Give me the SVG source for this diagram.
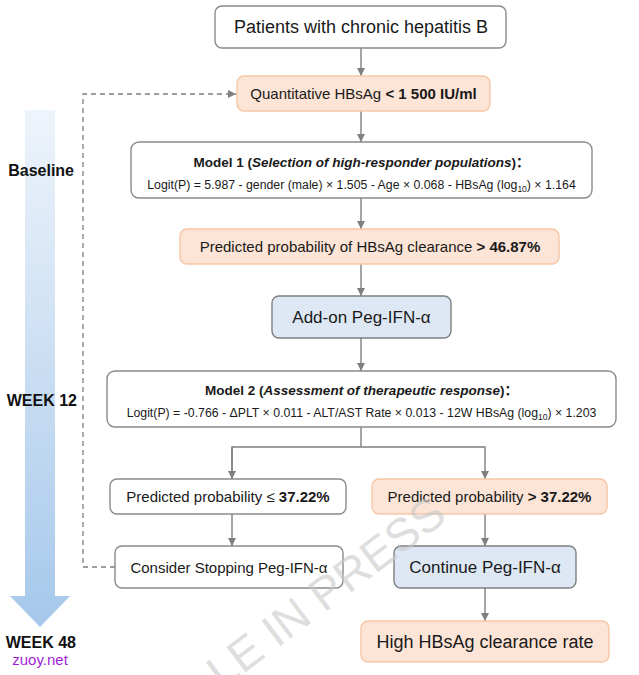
<svg xmlns="http://www.w3.org/2000/svg" width="639" height="675" viewBox="0 0 639 675">
<defs>
<linearGradient id="tl" x1="0" y1="0" x2="0" y2="1">
<stop offset="0" stop-color="#eef4fb"/>
<stop offset="1" stop-color="#a6c8eb"/>
</linearGradient>
<marker id="ah" viewBox="0 0 10 10" refX="10" refY="5" markerWidth="8" markerHeight="8" markerUnits="userSpaceOnUse" orient="auto">
<path d="M0,0 L10,5 L0,10 z" fill="#7f7f7f"/>
</marker>
<style>
text{font-family:"Liberation Sans",Arial,"Noto Sans CJK SC",sans-serif;fill:#1a1a1a;}
.w{fill:#ffffff;stroke:#8a8a8a;stroke-width:1.4;}
.o{fill:#fce4d6;stroke:#f6c6a6;stroke-width:1.4;}
.b{fill:#dde8f4;stroke:#7f7f7f;stroke-width:1.4;}
.c{fill:none;stroke:#7f7f7f;stroke-width:1.4;}
.d{fill:none;stroke:#7f7f7f;stroke-width:1.3;stroke-dasharray:5 4;}
.m{text-anchor:middle;}
.bd{font-weight:bold;}
.lab{font-weight:bold;font-size:16px;fill:#111;}
</style>
</defs>

<g id="timeline">
<path d="M25,110 H55 V596 H70 L40,627 L10,596 H25 Z" fill="url(#tl)"/>
<text class="lab" x="74" y="176" text-anchor="end">Baseline</text>
<text class="lab" x="77" y="406" text-anchor="end">WEEK 12</text>
<text class="lab" x="76" y="648" text-anchor="end">WEEK 48</text>
<text x="40" y="665" text-anchor="middle" font-size="15" style="fill:#a31fd6">zuoy.net</text>
</g>

<g id="connectors">
<line class="c" x1="361" y1="48" x2="361" y2="76" marker-end="url(#ah)"/>
<line class="c" x1="361" y1="111" x2="361" y2="142" marker-end="url(#ah)"/>
<line class="c" x1="361" y1="198" x2="361" y2="229" marker-end="url(#ah)"/>
<line class="c" x1="361" y1="264" x2="361" y2="296" marker-end="url(#ah)"/>
<line class="c" x1="361" y1="338" x2="361" y2="371" marker-end="url(#ah)"/>
<polyline class="c" points="361,427 361,447"/>
<polyline class="c" points="232,479 232,447 485,447 485,479" marker-end="url(#ah)"/>
<line class="c" x1="232" y1="447" x2="232" y2="479" marker-end="url(#ah)"/>
<line class="c" x1="232" y1="514" x2="232" y2="546" marker-end="url(#ah)"/>
<line class="c" x1="485" y1="514" x2="485" y2="546" marker-end="url(#ah)"/>
<line class="c" x1="485" y1="588" x2="485" y2="621" marker-end="url(#ah)"/>
<polyline class="d" points="115,567 83,567 83,94 236,94" marker-end="url(#ah)"/>
</g>

<g id="n1">
<rect class="w" x="215" y="6" width="291" height="42" rx="7"/>
<text class="m" x="361" y="33" font-size="18">Patients with chronic hepatitis B</text>
</g>
<g id="n2">
<rect class="o" x="237" y="76" width="253" height="35" rx="7"/>
<text class="m" x="363.5" y="99" font-size="15">Quantitative HBsAg <tspan class="bd">&lt; 1 500 IU/ml</tspan></text>
</g>
<g id="n3">
<rect class="w" x="131" y="142" width="461" height="56" rx="8"/>
<text class="m bd" x="361.5" y="167" font-size="13.5">Model 1 (<tspan font-style="italic">Selection of high-responder populations</tspan>)：</text>
<text class="m" x="361.5" y="189" font-size="12.3">Logit(P) = 5.987 - gender (male) × 1.505 - Age × 0.068 - HBsAg (log<tspan font-size="8.5" dy="2.5">10</tspan><tspan dy="-2.5">) × 1.164</tspan></text>
</g>
<g id="n4">
<rect class="o" x="180" y="229" width="379" height="35" rx="7"/>
<text class="m" x="370" y="252" font-size="15">Predicted probability of HBsAg clearance <tspan class="bd">&gt; 46.87%</tspan></text>
</g>
<g id="n5">
<rect class="b" x="272" y="296" width="179" height="42" rx="7"/>
<text class="m" x="361.5" y="323" font-size="17">Add-on Peg-IFN-α</text>
</g>
<g id="n6">
<rect class="w" x="107" y="371" width="509" height="56" rx="8"/>
<text class="m bd" x="361.5" y="395" font-size="13.5">Model 2 (<tspan font-style="italic">Assessment of therapeutic response</tspan>)：</text>
<text class="m" x="361.5" y="417" font-size="12.3">Logit(P) = -0.766 - ΔPLT × 0.011 - ALT/AST Rate × 0.013 - 12W HBsAg (log<tspan font-size="8.5" dy="2.5">10</tspan><tspan dy="-2.5">) × 1.203</tspan></text>
</g>
<g id="n7">
<rect class="w" x="110" y="479" width="236" height="35" rx="7"/>
<text class="m" x="228" y="502" font-size="15">Predicted probability ≤ <tspan class="bd">37.22%</tspan></text>
</g>
<g id="n8">
<rect class="o" x="372" y="479" width="235" height="35" rx="7"/>
<text class="m" x="489.5" y="502" font-size="15">Predicted probability <tspan class="bd">&gt; 37.22%</tspan></text>
</g>
<g id="n9">
<rect class="w" x="115" y="546" width="228" height="42" rx="7"/>
<text class="m" x="229" y="573" font-size="15">Consider Stopping Peg-IFN-α</text>
</g>
<g id="n10">
<rect class="b" x="394" y="546" width="182" height="42" rx="7"/>
<text class="m" x="485" y="573" font-size="17">Continue Peg-IFN-α</text>
</g>
<g id="n11">
<rect class="o" x="361" y="621" width="248" height="41" rx="7"/>
<text class="m" x="485" y="648" font-size="18">High HBsAg clearance rate</text>
</g>

<g id="watermark">
<text x="222" y="690" font-size="46" transform="rotate(-37 222 690)" style="fill:#c8c8c8;fill-opacity:0.6">LE IN PRESS</text>
</g>
</svg>
